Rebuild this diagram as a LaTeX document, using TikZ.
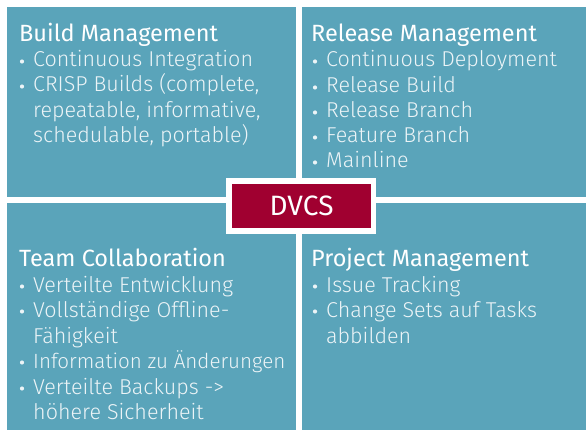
\documentclass[tikz,border=0pt]{standalone}
\usepackage{fontspec}
\setmainfont{Fira Sans}
\newfontfamily\itemfont{Fira Sans Light}
\definecolor{panelteal}{RGB}{90,164,186}
\definecolor{coredred}{RGB}{160,0,48}
\definecolor{itemwhite}{RGB}{236,244,247}
\begin{document}
\begin{tikzpicture}[x=1pt,y=-1pt,
  panel/.style={fill=panelteal,draw=none},
  heading/.style={anchor=base west,inner sep=0pt,text=white,font=\fontsize{23.5}{23.5}\selectfont},
  entry/.style={anchor=base west,inner sep=0pt,text=itemwhite,font=\itemfont\fontsize{21.5}{21.5}\selectfont},
  dot/.style={circle,fill=itemwhite,minimum size=4.2pt,inner sep=0pt}]
\useasboundingbox[fill=white] (0,0) rectangle (586,430);
% four quadrants
\fill[panel] (7,7) rectangle (296,197);
\fill[panel] (302,7) rectangle (586,197);
\fill[panel] (7,203) rectangle (296,430);
\fill[panel] (302,203) rectangle (586,430);
% centre label
\node[fill=white,minimum width=150pt,minimum height=56pt,inner sep=0pt] (frame) at (301,206) {};
\node[fill=coredred,minimum width=139pt,minimum height=44pt,inner sep=0pt,text=white,
  font=\fontsize{28}{28}\selectfont] (dvcs) at (301.5,206) {DVCS};
% top left
\node[heading] (bmT) at (19,42) {Build Management};
\node[dot] (bm1d) at (22,61.5) {}; \node[entry] (bm1) at (33,67) {Continuous Integration};
\node[dot] (bm2d) at (22,86.5) {}; \node[entry] (bm2) at (33,92) {CRISP Builds (complete,};
\node[entry] (bm3) at (33,118) {repeatable, informative,};
\node[entry] (bm4) at (33,143) {schedulable, portable)};
% top right
\node[heading] (rmT) at (311,42) {Release Management};
\node[dot] (rm1d) at (315,61.5) {}; \node[entry] (rm1) at (326,67) {Continuous Deployment};
\node[dot] (rm2d) at (315,87.5) {}; \node[entry] (rm2) at (326,93) {Release Build};
\node[dot] (rm3d) at (315,112.5) {}; \node[entry] (rm3) at (326,118) {Release Branch};
\node[dot] (rm4d) at (315,137.5) {}; \node[entry] (rm4) at (326,143) {Feature Branch};
\node[dot] (rm5d) at (315,162.5) {}; \node[entry] (rm5) at (326,168) {Mainline};
% bottom left
\node[heading] (tcT) at (19,266) {Team Collaboration};
\node[dot] (tc1d) at (22,286.5) {}; \node[entry] (tc1) at (33,292) {Verteilte Entwicklung};
\node[dot] (tc2d) at (22,311.5) {}; \node[entry] (tc2) at (33,317) {Vollständige Offline-};
\node[entry] (tc3) at (33,343) {Fähigkeit};
\node[dot] (tc4d) at (22,362.5) {}; \node[entry,font=\itemfont\fontsize{20.6}{20.6}\selectfont] (tc4) at (33,368) {Information zu Änderungen};
\node[dot] (tc5d) at (22,388.5) {}; \node[entry] (tc5) at (33,394) {Verteilte Backups ->};
\node[entry] (tc6) at (33,419) {höhere Sicherheit};
% bottom right
\node[heading] (pmT) at (311,266) {Project Management};
\node[dot] (pm1d) at (315,286.5) {}; \node[entry] (pm1) at (326,292) {Issue Tracking};
\node[dot] (pm2d) at (315,311.5) {}; \node[entry] (pm2) at (326,317) {Change Sets auf Tasks};
\node[entry] (pm3) at (326,343) {abbilden};
\end{tikzpicture}
\end{document}
